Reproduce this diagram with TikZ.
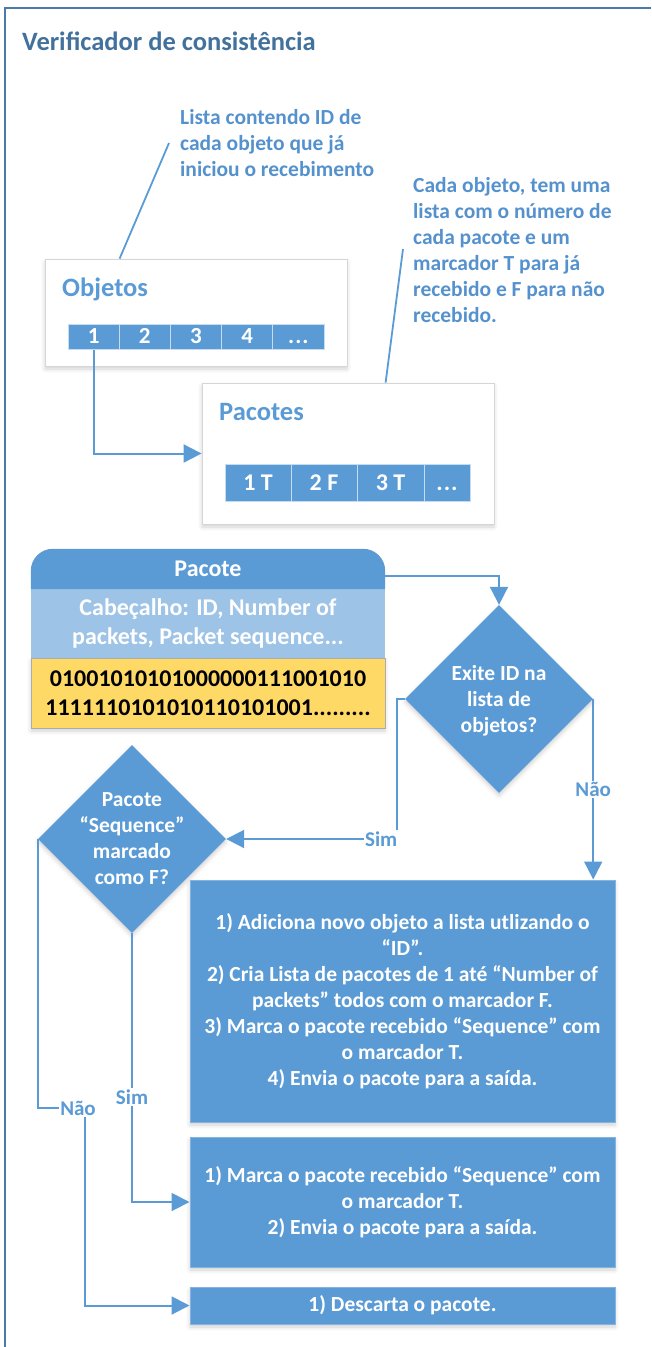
\documentclass[tikz,border=0pt]{standalone}
\usepackage{fontspec}
\setmainfont{Carlito}
\usetikzlibrary{arrows.meta,shapes.geometric,shadows.blur}

\definecolor{framecol}{HTML}{4A7AAB}
\definecolor{titlecol}{HTML}{41719C}
\definecolor{accent}{HTML}{5B9BD5}
\definecolor{notecol}{HTML}{5592CD}
\definecolor{headlight}{HTML}{9DC3E6}
\definecolor{payload}{HTML}{FFD966}
\definecolor{panelgray}{HTML}{D6D6D6}

\tikzset{
  softshadow/.style={blur shadow={shadow xshift=0pt, shadow yshift=-3pt,
      shadow opacity=18, shadow blur radius=4pt}},
  panel/.style={draw=panelgray, line width=0.8pt, fill=white, softshadow,
      inner sep=0pt},
  cell/.style={draw=white!65!accent, line width=1pt, fill=accent, text=white,
      inner sep=0pt, font=\fontsize{23}{28}\selectfont\bfseries,
      text height=14.5pt, text depth=0pt},
  pcell/.style={cell, minimum height=37pt, text height=15pt,
      font=\fontsize{24}{29}\selectfont\bfseries},
  note/.style={text=notecol, align=left, inner sep=0pt,
      font=\fontsize{21.5}{26}\selectfont\bfseries},
  panelname/.style={text=accent, inner sep=0pt,
      font=\fontsize{26.5}{31}\selectfont\bfseries},
  leader/.style={draw=accent, line width=1.8pt},
  flow/.style={draw=accent, line width=2pt,
      -{Triangle[length=18pt,width=18pt]}},
  decision/.style={diamond, fill=accent, inner sep=0pt,
      minimum width=188pt, minimum height=188pt, softshadow},
  dtext/.style={text=white, align=center, inner sep=0pt,
      font=\fontsize{21.5}{26}\selectfont\bfseries},
  action/.style={fill=accent, draw=white!25!accent, line width=1pt,
      text=white, align=center, inner sep=0pt, minimum width=425pt,
      font=\fontsize{21.5}{26}\selectfont\bfseries, softshadow},
  lbl/.style={fill=white, text=accent, inner sep=1.5pt,
      font=\fontsize{21}{25}\selectfont\bfseries},
}

\begin{document}
\begin{tikzpicture}[x=1pt,y=-1pt]
\useasboundingbox (0,0) rectangle (651,1347);

% outer frame (open to the right and bottom)
\draw[framecol, line width=2pt] (5,1347) -- (5,8) -- (651,8);

\node[anchor=base west, text=titlecol, inner sep=0pt,
      font=\fontsize{26.5}{31}\selectfont\bfseries] (title) at (22,50)
      {Verificador de consistência};

% ---------- data structures ----------
\node[panel, minimum width=302pt, minimum height=107pt] (objbox) at (196,312.5) {};
\node[panelname, anchor=base west] (objname) at (62,296) {Objetos};
\node[cell, minimum width=51.2pt, minimum height=25pt] (o1) at (93.6,336.5) {1};
\node[cell, minimum width=51.2pt, minimum height=25pt] (o2) at (144.8,336.5) {2};
\node[cell, minimum width=51.2pt, minimum height=25pt] (o3) at (196,336.5) {3};
\node[cell, minimum width=51.2pt, minimum height=25pt] (o4) at (247.2,336.5) {4};
\node[cell, minimum width=51.2pt, minimum height=25pt] (o5) at (298.4,336.5) {.\kern1pt.\kern1pt.};

\node[panel, minimum width=292pt, minimum height=141pt] (pacbox) at (348,453.5) {};
\node[panelname, anchor=base west] (pacname) at (219,420) {Pacotes};
\node[pcell, minimum width=66pt] (p1) at (258,482.5) {1 T};
\node[pcell, minimum width=66pt] (p2) at (324,482.5) {2 F};
\node[pcell, minimum width=67pt] (p3) at (390.5,482.5) {3 T};
\node[pcell, minimum width=46pt] (p4) at (447,482.5) {.\kern1pt.\kern1pt.};

\draw[flow] (o1.south) |- (pacbox.west);

% notes
\node[note, anchor=west] (note1) at (180,143.5)
  {Lista contendo ID de\\cada objeto que já\\iniciou o recebimento};
\node[note, anchor=west] (note2) at (413,250.5)
  {Cada objeto, tem uma\\lista com o número de\\cada pacote e um\\marcador T para já\\recebido e F para não\\recebido.};
\coordinate (n1end) at (169,143);
\coordinate (n2end) at (403,249);
\draw[leader] (n1end) -- ([xshift=75pt]objbox.north west);
\draw[leader] (n2end) -- ([xshift=184pt]pacbox.north west);

% ---------- packet ----------
\node[fill=payload, draw=panelgray!80!black, line width=1pt,
      minimum width=354pt, minimum height=70pt, inner sep=0pt, softshadow,
      align=center, font=\fontsize{24}{29.5}\selectfont\bfseries] (bits) at (208,693)
  {01001010101000000111001010\\1111110101010110101001.........};
\node[fill=headlight, minimum width=354pt, minimum height=69pt, inner sep=0pt,
      text=white, align=center, font=\fontsize{24}{29.5}\selectfont\bfseries]
  (cab) at (208,623.5)
  {Cabeçalho: ID, Number of\\packets, Packet sequence...};
\node[minimum width=354pt, minimum height=40pt, inner sep=0pt] (hdr) at (208,569) {};
\fill[accent] (hdr.south west) -- ([yshift=-22pt]hdr.north west)
  arc[start angle=180, end angle=90, radius=22pt]
  -- ([xshift=-22pt]hdr.north east)
  arc[start angle=90, end angle=0, radius=22pt]
  -- (hdr.south east) -- cycle;
\node[text=white, inner sep=0pt, font=\fontsize{24}{29}\selectfont\bfseries]
  (hdrtext) at (hdr.center) {Pacote};

% ---------- decisions ----------
\node[decision] (d1) at (499,699) {};
\node[dtext] (d1t) at (499,701) {Exite ID na\\lista de\\objetos?};
\node[decision] (d2) at (132,839) {};
\node[dtext] (d2t) at (132,838.5) {Pacote\\“Sequence”\\marcado\\como F?};

% ---------- actions ----------
\node[action, minimum height=242pt] (box1) at (402.5,1001)
  {1) Adiciona novo objeto a lista utlizando o\\“ID”.\\2) Cria Lista de pacotes de 1 até “Number of\\packets” todos com o marcador F.\\3) Marca o pacote recebido “Sequence” com\\o marcador T.\\4) Envia o pacote para a saída.};
\node[action, minimum height=130pt] (box2) at (402.5,1202)
  {1) Marca o pacote recebido “Sequence” com\\o marcador T.\\2) Envia o pacote para a saída.};
\node[action, minimum height=37pt] (box3) at (402.5,1305.5)
  {1) Descarta o pacote.};

% ---------- flow ----------
\draw[flow] ([yshift=-7pt]hdr.east) -| (d1.north);
\draw[flow] (d1.east) -- (d1.east |- box1.north)
  node[lbl, pos=0.5] (nao1) {Não};
\draw[flow] (d1.west) -- ++(-8,0) |- (d2.east)
  node[lbl, pos=0.5, anchor=east, xshift=3pt] (sim1) {Sim};
\draw[flow] (d2.south) |- (box2.west)
  node[lbl, pos=0.305] (sim2) {Sim};
\coordinate (naoturn) at (85,1108);
\draw[flow] (d2.west) |- (naoturn) |- (box3.west);
\node[lbl] (nao2) at (78,1108) {Não};
\end{tikzpicture}
\end{document}
